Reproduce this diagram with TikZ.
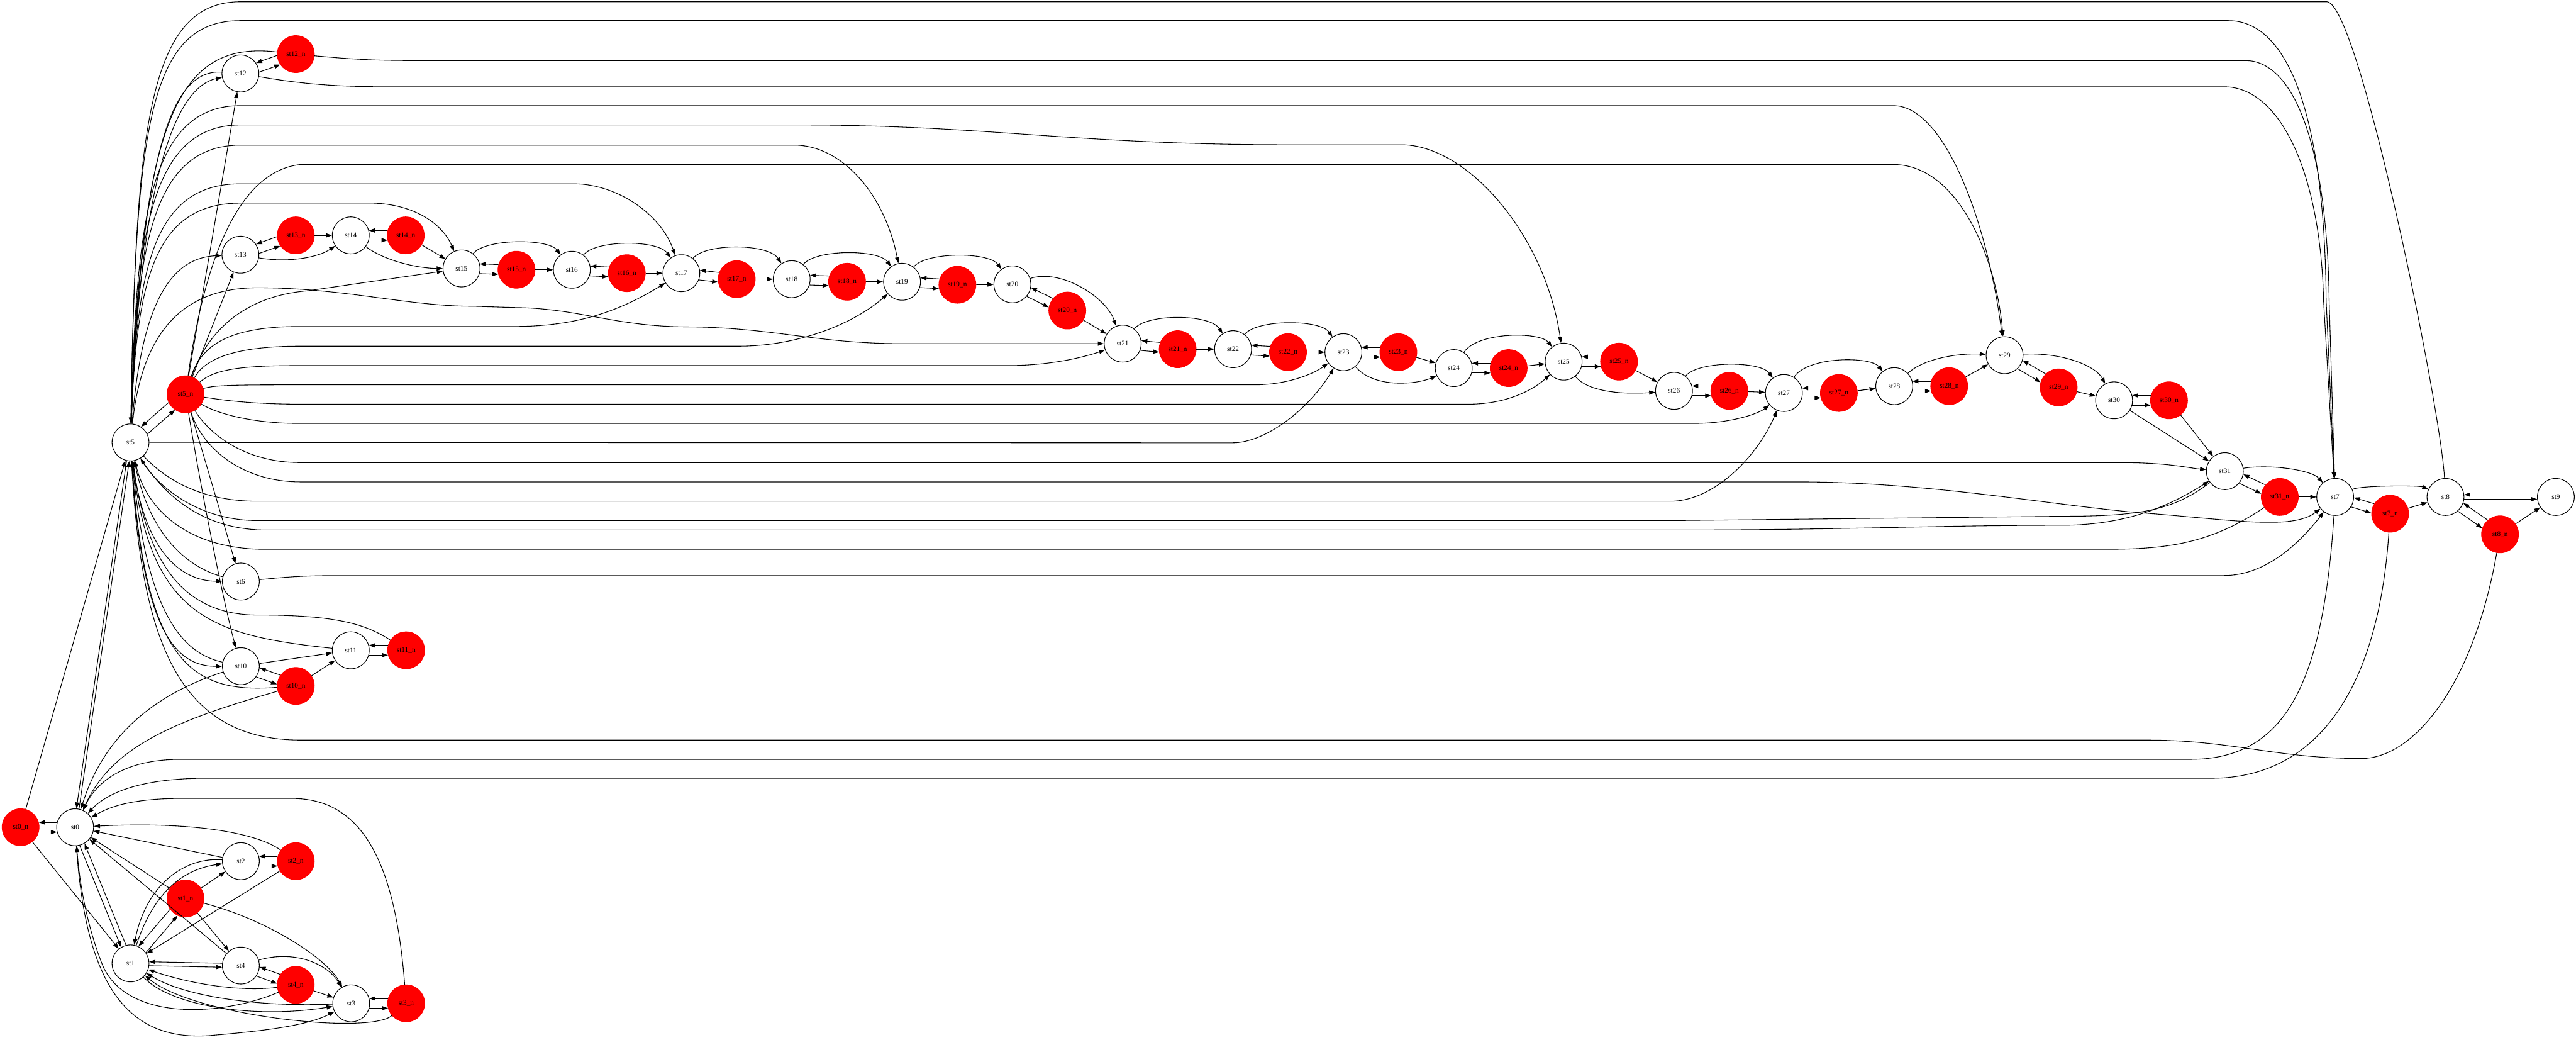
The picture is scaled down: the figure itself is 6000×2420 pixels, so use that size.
\documentclass[tikz,border=0pt]{standalone}
\usepackage{fontspec}
\setmainfont{Liberation Serif}
\usetikzlibrary{arrows.meta}
\newcommand{\pairlr}[4][15]{%
  \pgfmathtruncatemacro{\myPa}{#4+180-#1}%
  \pgfmathtruncatemacro{\myPb}{#4+#1}%
  \pgfmathtruncatemacro{\myPc}{#4-#1}%
  \pgfmathtruncatemacro{\myPd}{#4+180+#1}%
  \draw[e] (#3.\myPa) -- (#2.\myPb);
  \draw[e] (#2.\myPc) -- (#3.\myPd);}
\begin{document}
\begin{tikzpicture}[x=0.01cm,y=-0.01cm,
  wn/.style={circle,draw=black,line width=0.45pt,fill=white,minimum size=0.86cm,inner sep=0pt,font=\fontsize{4.7}{5.5}\selectfont},
  rn/.style={circle,fill=red,draw=red,line width=0.45pt,minimum size=0.86cm,inner sep=0pt,font=\fontsize{4.7}{5.5}\selectfont},
  e/.style={line width=0.45pt,-{Triangle[length=4pt,width=2.8pt]}}]
\useasboundingbox[fill=white] (0,0) rectangle (6000,2420);
% nodes
\node[rn] (st0_n) at (48,1926) {st0\_n};
\node[wn] (st0) at (175,1926) {st0};
\node[rn] (st1_n) at (432,2092) {st1\_n};
\node[wn] (st1) at (304,2243) {st1};
\node[wn] (st2) at (561,2005) {st2};
\node[rn] (st2_n) at (689,2005) {st2\_n};
\node[wn] (st4) at (561,2248) {st4};
\node[rn] (st4_n) at (689,2293) {st4\_n};
\node[wn] (st3) at (818,2336) {st3};
\node[rn] (st3_n) at (946,2336) {st3\_n};
\node[wn] (st5) at (304,1030) {st5};
\node[rn] (st5_n) at (432,918) {st5\_n};
\node[wn] (st6) at (561,1354) {st6};
\node[wn] (st10) at (561,1551) {st10};
\node[rn] (st10_n) at (689,1597) {st10\_n};
\node[wn] (st11) at (817,1514) {st11};
\node[rn] (st11_n) at (946,1514) {st11\_n};
\node[wn] (st12) at (560,171) {st12};
\node[rn] (st12_n) at (689,126) {st12\_n};
\node[wn] (st13) at (560,593) {st13};
\node[rn] (st13_n) at (689,548) {st13\_n};
\node[wn] (st14) at (817,548) {st14};
\node[rn] (st14_n) at (945,548) {st14\_n};
\node[wn] (st15) at (1075,625) {st15};
\node[rn] (st15_n) at (1203,628) {st15\_n};
\node[wn] (st16) at (1332,628) {st16};
\node[rn] (st16_n) at (1460,636) {st16\_n};
\node[wn] (st17) at (1587,636) {st17};
\node[rn] (st17_n) at (1716,650) {st17\_n};
\node[wn] (st18) at (1844,650) {st18};
\node[rn] (st18_n) at (1973,656) {st18\_n};
\node[wn] (st19) at (2101,656) {st19};
\node[rn] (st19_n) at (2230,663) {st19\_n};
\node[wn] (st20) at (2358,662) {st20};
\node[rn] (st20_n) at (2486,723) {st20\_n};
\node[wn] (st21) at (2615,800) {st21};
\node[rn] (st21_n) at (2743,813) {st21\_n};
\node[wn] (st22) at (2872,813) {st22};
\node[rn] (st22_n) at (3000,820) {st22\_n};
\node[wn] (st23) at (3129,820) {st23};
\node[rn] (st23_n) at (3257,820) {st23\_n};
\node[wn] (st24) at (3386,857) {st24};
\node[rn] (st24_n) at (3514,857) {st24\_n};
\node[wn] (st25) at (3642,842) {st25};
\node[rn] (st25_n) at (3771,842) {st25\_n};
\node[wn] (st26) at (3899,910) {st26};
\node[rn] (st26_n) at (4028,910) {st26\_n};
\node[wn] (st27) at (4155,915) {st27};
\node[rn] (st27_n) at (4283,915) {st27\_n};
\node[wn] (st28) at (4412,899) {st28};
\node[rn] (st28_n) at (4540,899) {st28\_n};
\node[wn] (st29) at (4669,827) {st29};
\node[rn] (st29_n) at (4795,902) {st29\_n};
\node[wn] (st30) at (4924,932) {st30};
\node[rn] (st30_n) at (5052,932) {st30\_n};
\node[wn] (st31) at (5182,1097) {st31};
\node[rn] (st31_n) at (5310,1157) {st31\_n};
\node[wn] (st7) at (5439,1157) {st7};
\node[rn] (st7_n) at (5567,1196) {st7\_n};
\node[wn] (st8) at (5696,1157) {st8};
\node[rn] (st8_n) at (5823,1244) {st8\_n};
\node[wn] (st9) at (5953,1157) {st9};
% paired edges
\pairlr{st0_n}{st0}{0}
\pairlr{st1}{st1_n}{50}
\pairlr{st2}{st2_n}{0}
\pairlr{st4}{st4_n}{-19}
\pairlr{st3}{st3_n}{0}
\pairlr[6]{st1}{st4}{-1}
\pairlr[4]{st0}{st5}{82}
\pairlr[8]{st0}{st1}{-68}
\pairlr{st5}{st5_n}{41}
\pairlr{st10}{st10_n}{-20}
\pairlr{st11}{st11_n}{0}
\pairlr{st12}{st12_n}{19}
\pairlr{st13}{st13_n}{19}
\pairlr{st14}{st14_n}{0}
\pairlr{st15}{st15_n}{-1}
\pairlr{st16}{st16_n}{-4}
\pairlr{st17}{st17_n}{-6}
\pairlr{st18}{st18_n}{-3}
\pairlr{st19}{st19_n}{-3}
\pairlr{st20}{st20_n}{-25}
\pairlr{st21}{st21_n}{-6}
\pairlr{st22}{st22_n}{-3}
\pairlr{st23}{st23_n}{0}
\pairlr{st24}{st24_n}{0}
\pairlr{st25}{st25_n}{0}
\pairlr{st26}{st26_n}{0}
\pairlr{st27}{st27_n}{0}
\pairlr{st28}{st28_n}{0}
\pairlr{st29}{st29_n}{-31}
\pairlr{st30}{st30_n}{0}
\pairlr{st31}{st31_n}{-25}
\pairlr{st7}{st7_n}{-17}
\pairlr{st8}{st8_n}{-34}
\pairlr[7]{st8}{st9}{0}
% bottom-left cluster
\draw[e] (st0_n) -- (st1);
\draw[e] (st0_n) -- (st5);
\draw[e] (st1_n) -- (st0);
\draw[e] (st1_n) -- (st2);
\draw[e] (st1_n) -- (st4);
\draw[e] (st1_n) .. controls (620,2140) and (760,2230) .. (st3);
\draw[e] (st2) -- (st0);
\draw[e] (st2_n) .. controls (600,1940) and (450,1912) .. (st0);
\draw[e] (st2_n) -- (st1);
\draw[e] (st2) .. controls (430,1995) and (340,2060) .. (st1);
\draw[e] (st1) .. controls (355,2085) and (420,2025) .. (st2);
\draw[e] (st4) -- (st0);
\draw[e] (st4) .. controls (680,2212) and (760,2240) .. (st3);
\draw[e] (st4_n) -- (st3);
\draw[e] (st4_n) .. controls (560,2310) and (440,2290) .. (st1);
\draw[e] (st4_n) .. controls (520,2365) and (300,2380) .. (240,2250) .. controls (200,2150) and (185,2050) .. (st0);
\draw[e] (st3) .. controls (600,2345) and (430,2320) .. (st1);
\draw[e] (st1) .. controls (400,2345) and (600,2372) .. (st3);
\draw[e] (st3_n) .. controls (860,2410) and (450,2365) .. (st1);
\draw[e] (st3_n) .. controls (920,2000) and (840,1859) .. (680,1859) -- (420,1859) .. controls (320,1859) and (260,1875) .. (st0);
\draw[e] (st0) .. controls (200,2300) and (300,2430) .. (500,2410) .. controls (640,2398) and (720,2385) .. (st3);
% st5 cluster
\draw[e] (st5_n) -- (st6);
\draw[e] (st5_n) .. controls (470,1150) and (520,1400) .. (st10);
\draw[e] (st5_n) -- (st12);
\draw[e] (st5_n) -- (st13);
\draw[e] (st6) .. controls (440,1322) and (350,1250) .. (st5);
\draw[e] (st5) .. controls (330,1250) and (400,1352) .. (st6);
\draw[e] (st10) .. controls (420,1520) and (340,1420) .. (st5);
\draw[e] (st5) .. controls (330,1450) and (400,1552) .. (st10);
\draw[e] (st10_n) .. controls (450,1615) and (340,1550) .. (st5);
\draw[e] (st11) .. controls (500,1480) and (350,1440) .. (st5);
\draw[e] (st11_n) .. controls (850,1452) and (780,1432) .. (600,1432) .. controls (420,1432) and (340,1300) .. (st5);
\draw[e] (st10) -- (st11);
\draw[e] (st10_n) -- (st11);
\draw[e] (st10) .. controls (350,1620) and (240,1720) .. (st0);
\draw[e] (st10_n) .. controls (400,1680) and (260,1740) .. (st0);
% st12 .. st14
\draw[e] (st5) .. controls (325,450) and (400,205) .. (st12);
\draw[e] (st12) .. controls (400,160) and (330,350) .. (st5);
\draw[e] (st12_n) .. controls (420,95) and (330,260) .. (st5);
\draw[e] (st5) .. controls (330,700) and (400,600) .. (st13);
\draw[e] (st13_n) -- (st14);
\draw[e] (st13) .. controls (670,612) and (740,600) .. (st14);
\draw[e] (st14) .. controls (900,610) and (980,625) .. (st15);
\draw[e] (st14_n) -- (st15);
% chain: red to next
\draw[e] (st15_n) -- (st16);
\draw[e] (st16_n) -- (st17);
\draw[e] (st17_n) -- (st18);
\draw[e] (st18_n) -- (st19);
\draw[e] (st19_n) -- (st20);
\draw[e] (st20_n) -- (st21);
\draw[e] (st21_n) -- (st22);
\draw[e] (st22_n) -- (st23);
\draw[e] (st23_n) -- (st24);
\draw[e] (st24_n) -- (st25);
\draw[e] (st25_n) -- (st26);
\draw[e] (st26_n) -- (st27);
\draw[e] (st27_n) -- (st28);
\draw[e] (st28_n) -- (st29);
\draw[e] (st29_n) -- (st30);
\draw[e] (st30_n) -- (st31);
\draw[e] (st30) -- (st31);
\draw[e] (st31_n) -- (st7);
\draw[e] (st7_n) -- (st8);
\draw[e] (st8_n) -- (st9);
% chain arcs
\draw[e] (st15) .. controls (1130,555) and (1277,555) .. (st16);
\draw[e] (st16) .. controls (1387,558) and (1532,558) .. (st17);
\draw[e] (st17) .. controls (1642,566) and (1789,566) .. (st18);
\draw[e] (st18) .. controls (1899,580) and (2046,580) .. (st19);
\draw[e] (st19) .. controls (2156,586) and (2303,586) .. (st20);
\draw[e] (st20) .. controls (2470,625) and (2575,690) .. (st21);
\draw[e] (st21) .. controls (2670,730) and (2817,730) .. (st22);
\draw[e] (st22) .. controls (2927,743) and (3074,743) .. (st23);
\draw[e] (st23) .. controls (3200,905) and (3300,895) .. (st24);
\draw[e] (st24) .. controls (3441,772) and (3587,772) .. (st25);
\draw[e] (st25) .. controls (3700,915) and (3790,918) .. (st26);
\draw[e] (st26) .. controls (3954,840) and (4100,840) .. (st27);
\draw[e] (st27) .. controls (4210,829) and (4357,829) .. (st28);
\draw[e] (st28) .. controls (4480,835) and (4560,822) .. (st29);
\draw[e] (st29) .. controls (4800,820) and (4880,850) .. (st30);
\draw[e] (st31) .. controls (5290,1080) and (5385,1095) .. (st7);
\draw[e] (st7) .. controls (5500,1130) and (5635,1130) .. (st8);
% long top edges
\draw[e] (st8) .. controls (5685,950) and (5495,10) .. (5420,4) -- (560,4) .. controls (345,4) and (316,300) .. (st5);
\draw[e] (st5) .. controls (316,300) and (345,48) .. (560,48) -- (5190,48) .. controls (5340,48) and (5415,300) .. (5418,700) -- (st7);
\draw[e] (st12_n) .. controls (800,136) and (860,141) .. (960,141) -- (5230,141) .. controls (5340,141) and (5420,330) .. (5425,700) -- (st7);
\draw[e] (st12) .. controls (700,195) and (780,202) .. (900,202) -- (5180,202) .. controls (5310,202) and (5405,400) .. (5412,700) -- (st7);
\draw[e] (st5) .. controls (317,520) and (345,246) .. (560,246) -- (4410,246) .. controls (4530,246) and (4630,520) .. (st29);
\draw[e] (st5_n) .. controls (470,650) and (540,400) .. (700,383) -- (4410,383) .. controls (4560,383) and (4650,600) .. (st29);
\draw[e] (st5) .. controls (317,560) and (345,291) .. (560,291) -- (1860,291) .. controls (2300,291) and (2500,337) .. (3000,337) -- (3263,337) .. controls (3420,337) and (3600,550) .. (st25);
\draw[e] (st5) .. controls (318,600) and (345,338) .. (560,338) -- (1850,338) .. controls (1960,338) and (2060,450) .. (st19);
\draw[e] (st5) .. controls (318,640) and (350,428) .. (560,428) -- (1340,428) .. controls (1440,430) and (1540,500) .. (st17);
\draw[e] (st5) .. controls (318,660) and (355,473) .. (560,473) -- (850,473) .. controls (960,470) and (1030,520) .. (st15);
\draw[e] (st5) .. controls (330,780) and (420,670) .. (600,670) .. controls (800,670) and (950,713) .. (1100,713) -- (1200,716) .. controls (1350,718) and (1430,760) .. (1600,761) .. controls (1800,762) and (1900,800) .. (2100,800) -- (st21);
% st5_n fan to the right
\draw[e] (st5_n) .. controls (480,780) and (560,690) .. (717,677) -- (st15);
\draw[e] (st5_n) .. controls (470,800) and (540,760) .. (700,760) -- (1200,760) .. controls (1350,760) and (1450,720) .. (st17);
\draw[e] (st5_n) .. controls (480,830) and (560,806) .. (700,806) -- (1720,806) .. controls (1850,806) and (1980,760) .. (st19);
\draw[e] (st5_n) .. controls (500,860) and (560,851) .. (700,851) -- (2350,851) .. controls (2450,851) and (2530,830) .. (st21);
\draw[e] (st5_n) .. controls (500,896) and (560,896) .. (700,896) -- (2920,896) .. controls (3000,896) and (3060,870) .. (st23);
\draw[e] (st5_n) .. controls (510,930) and (580,941) .. (700,941) -- (3420,941) .. controls (3520,941) and (3580,900) .. (st25);
\draw[e] (st5_n) .. controls (500,960) and (580,986) .. (700,986) -- (3940,986) .. controls (4040,986) and (4100,960) .. (st27);
\draw[e] (st5_n) .. controls (480,1000) and (560,1077) .. (700,1077) -- (4940,1077) .. controls (5050,1077) and (5100,1090) .. (st31);
\draw[e] (st5_n) .. controls (470,1040) and (560,1122) .. (700,1122) -- (4190,1122) .. controls (4500,1122) and (4800,1180) .. (5000,1195) .. controls (5200,1210) and (5340,1235) .. (st7);
% st5 to the right, lower
\draw[e] (st5) -- (2870,1031) .. controls (2950,1031) and (3050,950) .. (st23);
\draw[e] (st5) .. controls (380,1110) and (460,1167) .. (600,1167) -- (3890,1167) .. controls (4000,1167) and (4100,1050) .. (st27);
\draw[e] (st31) .. controls (5060,1190) and (4980,1202) .. (4800,1202) -- (3900,1212) -- (600,1212) .. controls (450,1212) and (360,1120) .. (st5);
\draw[e] (st5) .. controls (380,1150) and (470,1234) .. (620,1234) -- (3900,1234) .. controls (4300,1234) and (4500,1223) .. (4800,1223) .. controls (4950,1223) and (5050,1180) .. (st31);
\draw[e] (st31_n) .. controls (5150,1265) and (5050,1279) .. (4900,1279) -- (620,1279) .. controls (430,1279) and (340,1180) .. (st5);
\draw[e] (st6) .. controls (680,1342) and (720,1340) .. (800,1340) -- (5180,1340) .. controls (5280,1340) and (5360,1260) .. (st7);
% long bottom edges
\draw[e] (st8_n) .. controls (5760,1600) and (5620,1766) .. (5500,1766) .. controls (5300,1766) and (5200,1723) .. (5000,1723) -- (700,1723) .. controls (420,1723) and (330,1500) .. (st5);
\draw[e] (st7) .. controls (5410,1600) and (5320,1768) .. (5100,1768) -- (420,1768) .. controls (290,1768) and (225,1820) .. (st0);
\draw[e] (st7_n) .. controls (5540,1600) and (5400,1812) .. (5150,1812) -- (480,1812) .. controls (330,1812) and (250,1845) .. (st0);
\end{tikzpicture}
\end{document}
